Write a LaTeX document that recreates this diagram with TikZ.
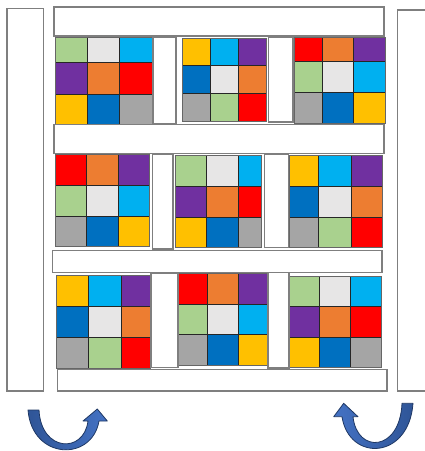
\documentclass[tikz,border=0pt]{standalone}
\usetikzlibrary{shadings}

\definecolor{cgreen}{HTML}{A9D18E}
\definecolor{clgray}{HTML}{E7E6E6}
\definecolor{ccyan}{HTML}{00B0F0}
\definecolor{cpurple}{HTML}{7030A0}
\definecolor{corange}{HTML}{ED7D31}
\definecolor{cred}{HTML}{FF0000}
\definecolor{cyellow}{HTML}{FFC000}
\definecolor{cblue}{HTML}{0070C0}
\definecolor{cgray}{HTML}{A5A5A5}
\definecolor{barline}{HTML}{7F7F7F}
\definecolor{arrowdark}{HTML}{2F5597}
\definecolor{arrowlight}{HTML}{4472C4}
\definecolor{arrowline}{HTML}{1F3864}

% the three colour patterns of the boxes
\def\patA{cgreen,clgray,ccyan,cpurple,corange,cred,cyellow,cblue,cgray}
\def\patB{cyellow,ccyan,cpurple,cblue,clgray,corange,cgray,cgreen,cred}
\def\patC{cred,corange,cpurple,cgreen,clgray,ccyan,cgray,cblue,cyellow}

% #1 column edges, #2 row edges, #3 colours
\newcommand{\colorgrid}[3]{%
  \foreach \col [count=\k from 0] in #3 {
    \pgfmathtruncatemacro\r{div(\k,3)}
    \pgfmathtruncatemacro\c{mod(\k,3)}
    \pgfmathsetmacro\xa{{#1}[\c]}
    \pgfmathsetmacro\xb{{#1}[\c+1]}
    \pgfmathsetmacro\ya{{#2}[\r]}
    \pgfmathsetmacro\yb{{#2}[\r+1]}
    \draw[cellline,fill=\col] (\xa,\ya) rectangle (\xb,\yb);
  }
  \pgfmathsetmacro\gxa{{#1}[0]}
  \pgfmathsetmacro\gxb{{#1}[3]}
  \pgfmathsetmacro\gya{{#2}[0]}
  \pgfmathsetmacro\gyb{{#2}[3]}
  \draw[gridedge] (\gxa,\gya) rectangle (\gxb,\gyb);
}

\begin{document}
\begin{tikzpicture}[x=1pt,y=-1pt,
  cellline/.style={draw=black!85,line width=0.6pt},
  gridedge/.style={draw=black!60,line width=0.9pt},
  bar/.style={draw=barline,fill=white,line width=1.4pt},
  turnarrow/.style={draw=arrowline,line width=0.8pt,line join=round}]
\useasboundingbox (0,0) rectangle (425,451);

% boxes
\colorgrid{55,87,119.7,152}{37,62,94,124}{\patA}
\colorgrid{182,210,238,266}{38,65.7,93.7,121}{\patB}
\colorgrid{294,322.7,353.7,385.3}{37,61.7,92,123}{\patC}
\colorgrid{55,86.3,118,149.7}{154.3,185.3,216.3,246.7}{\patC}
\colorgrid{175,206.7,238.7,261.3}{155,186.3,217,247.7}{\patA}
\colorgrid{289.7,318.7,351.3,382.7}{155.3,186.3,217.3,247.7}{\patB}
\colorgrid{56.7,88.3,121,150.3}{275,306.3,337.7,368}{\patB}
\colorgrid{178.7,207.7,238.7,267.3}{273.3,304.3,334.7,365.3}{\patC}
\colorgrid{289.3,319.3,350.3,381}{276,306.7,337.3,367}{\patA}

% pillars
\draw[bar] (7,8.3) rectangle (43.7,391);
\draw[bar] (397.7,10) rectangle (430,391);

% shelves
\draw[bar] (54,7) rectangle (384,36);
\draw[bar] (54,124.3) rectangle (384,153.3);
\draw[bar] (52.7,250.7) rectangle (382,272.3);
\draw[bar] (57.7,369.3) rectangle (387,391);

% dividers
\draw[bar] (153,37) rectangle (176,124);
\draw[bar] (268.7,37) rectangle (293,122);
\draw[bar] (152.7,154) rectangle (173,249);
\draw[bar] (264.3,154) rectangle (288.3,247.3);
\draw[bar] (151,273.3) rectangle (178,367.7);
\draw[bar] (268,272.3) rectangle (289,368);

% turning arrows
\draw[turnarrow,left color=arrowdark,right color=arrowlight]
  (28,410) -- (39,410) .. controls (41,452) and (84,454) .. (88,421)
  -- (83,421) -- (97.3,409) -- (107.3,421) -- (99,421)
  .. controls (92,462) and (32,460) .. (28,410) -- cycle;
\draw[turnarrow,left color=arrowlight,right color=arrowdark]
  (413,403.3) -- (402,403.3) .. controls (400,452) and (357,454) .. (353,416.7)
  -- (358,416.7) -- (343.7,403.3) -- (333.7,416.7) -- (342,416.7)
  .. controls (349,462) and (409,460) .. (413,403.3) -- cycle;
\end{tikzpicture}
\end{document}
